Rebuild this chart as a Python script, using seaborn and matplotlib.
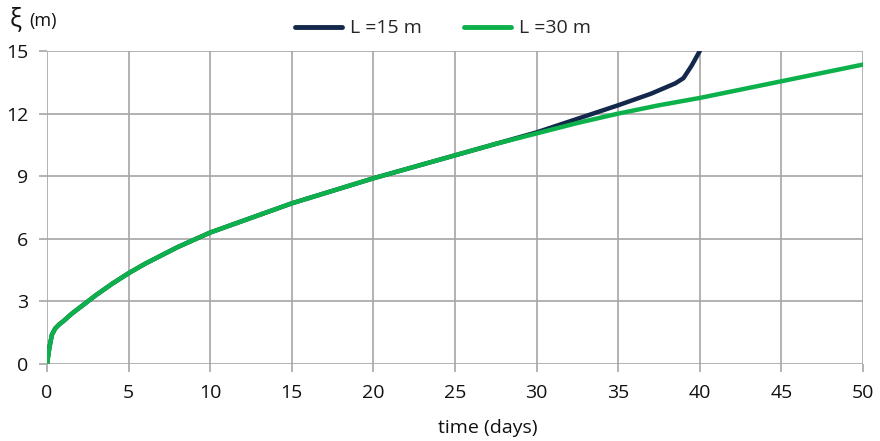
import numpy as np
import pandas as pd
import matplotlib
matplotlib.use("Agg")
import matplotlib.pyplot as plt
import seaborn as sns

t_30 = [0, 0.15, 0.3, 0.5, 0.75, 1, 1.5, 2, 2.5, 3, 4, 5, 6, 7, 8, 10, 12.5, 15, 17.5, 20,
        22.5, 25, 27.5, 30, 32.5, 35, 37.5, 40, 42.5, 45, 47.5, 50]
xi_30 = [0, 0.8, 1.4, 1.7, 1.9, 2.05, 2.4, 2.7, 3.0, 3.3, 3.85, 4.35, 4.8, 5.2, 5.6, 6.3, 7.0,
         7.7, 8.3, 8.9, 9.45, 10.0, 10.55, 11.05, 11.55, 12.0, 12.4, 12.75, 13.15, 13.55, 13.95, 14.35]
t_15 = [0, 0.15, 0.3, 0.5, 0.75, 1, 1.5, 2, 2.5, 3, 4, 5, 6, 7, 8, 10, 12.5, 15, 17.5, 20,
        22.5, 25, 27.5, 30, 32.5, 35, 37, 38.5, 39, 39.5, 40]
xi_15 = [0, 0.8, 1.4, 1.7, 1.9, 2.05, 2.4, 2.7, 3.0, 3.3, 3.85, 4.35, 4.8, 5.2, 5.6, 6.3, 7.0,
         7.7, 8.3, 8.9, 9.45, 10.0, 10.55, 11.1, 11.75, 12.4, 12.95, 13.45, 13.7, 14.3, 15.0]
series_names = ["L =15 m", "L =30 m"]
colors = ["#14284B", "#0DB14B"]

df = pd.concat([
    pd.DataFrame({"t": t_15, "xi": xi_15, "series": series_names[0]}),
    pd.DataFrame({"t": t_30, "xi": xi_30, "series": series_names[1]}),
])

sns.set_theme(style="white")
plt.rcParams["font.family"] = ["Open Sans", "DejaVu Sans"]

fig = plt.figure(figsize=(8.8, 4.41), dpi=100)
ax = fig.add_axes([47/880, 1-364/441, (863-47)/880, (364-51)/441])
sns.lineplot(data=df, x="t", y="xi", hue="series", palette=colors, linewidth=3.2,
             ax=ax, sort=False, estimator=None)
ax.set_xlim(0, 50)
ax.set_ylim(0, 15)
ax.set_xticks(range(0, 51, 5))
ax.set_yticks(range(0, 16, 3))
ax.grid(True, color="#A6A6A6", linewidth=1.2)
ax.set_axisbelow(True)
for s in ax.spines.values():
    s.set_visible(False)
ax.tick_params(axis="both", length=5.5, width=1.2, color="#A6A6A6", labelsize=14,
               labelcolor="#111111", bottom=True, left=True)
ax.tick_params(axis="x", pad=9)
ax.tick_params(axis="y", pad=8)
ax.set_xlabel("time (days)", fontsize=14, color="#111111")
ax.xaxis.set_label_coords((488-47)/816, -(428-364)/313)
ax.xaxis.label.set_va("center")
ax.set_ylabel("")
fig.text(10/880, 1-20/441, "ξ", fontsize=18, color="#111111", va="center", ha="left")
fig.text(29/880, 1-21/441, "(m)", fontsize=13, color="#111111", va="center", ha="left")
leg = ax.legend(loc="lower center", bbox_to_anchor=((443-47)/816, 1.0), ncol=2, frameon=False,
                fontsize=14, handlelength=2.4, handletextpad=0.4, columnspacing=2.2,
                borderaxespad=0.3)
for line in leg.get_lines():
    line.set_linewidth(3.5)
fig.savefig("out.png", dpi=100)
